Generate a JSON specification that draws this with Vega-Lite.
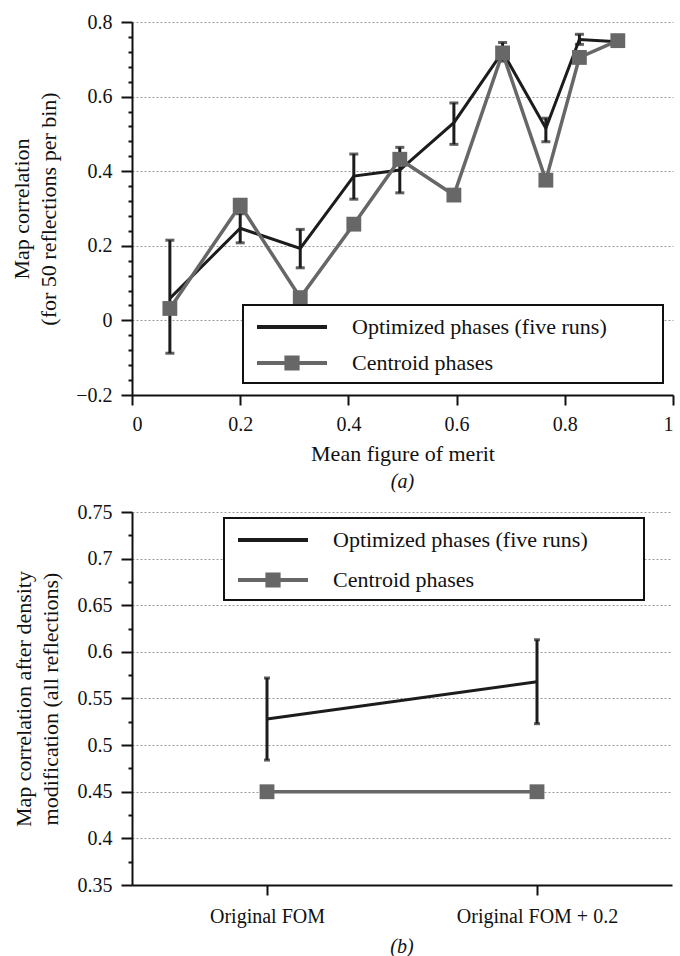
{
  "$schema": "https://vega.github.io/schema/vega-lite/v6.json",
  "background": "white",
  "padding": {"left": 10, "top": 12, "right": 4, "bottom": 2},
  "spacing": 10,
  "resolve": {"scale": {"color": "independent"}, "legend": {"color": "independent"}},
  "config": {
    "font": "Liberation Serif",
    "view": {"stroke": null},
    "axis": {
      "labelFont": "Liberation Serif", "labelFontSize": 20, "labelColor": "#111",
      "titleFont": "Liberation Serif", "titleFontSize": 22, "titleFontWeight": "normal", "titleColor": "#111",
      "domainColor": "#111", "domainWidth": 2, "tickColor": "#111", "tickWidth": 2,
      "gridColor": "#9a9a9a", "gridDash": [2, 2], "gridWidth": 1
    },
    "legend": {
      "orient": "none", "direction": "vertical",
      "fillColor": "white", "strokeColor": "#111", "padding": 6,
      "symbolOffset": 6, "labelOffset": 65, "symbolSize": 784, "symbolStrokeWidth": 4,
      "labelFont": "Liberation Serif", "labelFontSize": 22, "labelColor": "#111", "labelLimit": 600
    },
    "title": {"font": "Liberation Serif", "fontSize": 20, "fontWeight": "normal", "fontStyle": "italic", "color": "#111", "anchor": "middle"}
  },
  "datasets": {
    "top": [
      {"series": "Optimized phases (five runs)", "fom": 0.070, "r": 0.059, "lo": -0.088, "hi": 0.215},
      {"series": "Optimized phases (five runs)", "fom": 0.200, "r": 0.247, "lo": 0.208, "hi": 0.286},
      {"series": "Optimized phases (five runs)", "fom": 0.311, "r": 0.193, "lo": 0.141, "hi": 0.244},
      {"series": "Optimized phases (five runs)", "fom": 0.410, "r": 0.387, "lo": 0.325, "hi": 0.446},
      {"series": "Optimized phases (five runs)", "fom": 0.495, "r": 0.403, "lo": 0.342, "hi": 0.464},
      {"series": "Optimized phases (five runs)", "fom": 0.595, "r": 0.530, "lo": 0.472, "hi": 0.583},
      {"series": "Optimized phases (five runs)", "fom": 0.685, "r": 0.720, "lo": 0.695, "hi": 0.745},
      {"series": "Optimized phases (five runs)", "fom": 0.765, "r": 0.515, "lo": 0.479, "hi": 0.542},
      {"series": "Optimized phases (five runs)", "fom": 0.827, "r": 0.753, "lo": 0.740, "hi": 0.767},
      {"series": "Optimized phases (five runs)", "fom": 0.898, "r": 0.747, "lo": 0.737, "hi": 0.757},
      {"series": "Centroid phases", "fom": 0.070, "r": 0.032},
      {"series": "Centroid phases", "fom": 0.200, "r": 0.309},
      {"series": "Centroid phases", "fom": 0.311, "r": 0.061},
      {"series": "Centroid phases", "fom": 0.410, "r": 0.258},
      {"series": "Centroid phases", "fom": 0.495, "r": 0.432},
      {"series": "Centroid phases", "fom": 0.595, "r": 0.336},
      {"series": "Centroid phases", "fom": 0.685, "r": 0.717},
      {"series": "Centroid phases", "fom": 0.765, "r": 0.376},
      {"series": "Centroid phases", "fom": 0.827, "r": 0.705},
      {"series": "Centroid phases", "fom": 0.898, "r": 0.750}
    ],
    "bottom": [
      {"series": "Optimized phases (five runs)", "cond": "Original FOM", "r": 0.528, "lo": 0.484, "hi": 0.572},
      {"series": "Optimized phases (five runs)", "cond": "Original FOM + 0.2", "r": 0.568, "lo": 0.523, "hi": 0.613},
      {"series": "Centroid phases", "cond": "Original FOM", "r": 0.45},
      {"series": "Centroid phases", "cond": "Original FOM + 0.2", "r": 0.45}
    ]
  },
  "vconcat": [
    {
      "width": 541, "height": 373,
      "data": {"name": "top"},
      "title": {"text": "(a)", "orient": "bottom", "offset": 8},
      "resolve": {"axis": {"y": "independent"}},
      "encoding": {
        "x": {"field": "fom", "type": "quantitative", "scale": {"domain": [0, 1], "nice": false},
          "axis": {"title": "Mean figure of merit", "values": [0, 0.2, 0.4, 0.6, 0.8, 1], "format": "~g", "grid": false, "tickSize": 10, "labelPadding": 9, "titlePadding": 9}}
      },
      "layer": [
        {
          "transform": [{"filter": "datum.series === 'Optimized phases (five runs)'"}],
          "mark": {"type": "line", "strokeWidth": 3},
          "encoding": {
            "y": {"field": "r", "type": "quantitative", "scale": {"domain": [-0.2, 0.8], "nice": false},
              "axis": {
                "orient": "left",
                "title": ["Map correlation", "(for 50 reflections per bin)"], "titleLineHeight": 27, "titlePadding": 15,
                "values": [-0.2, 0, 0.2, 0.4, 0.6, 0.8], "format": "~g", "labelOverlap": false,
                "tickSize": 11, "labelPadding": 9
              }},
            "color": {"field": "series", "type": "nominal",
              "scale": {"domain": ["Optimized phases (five runs)", "Centroid phases"], "range": ["#1c1c1c", "#676767"]},
              "legend": {
                "title": null,
                "legendX": 111, "legendY": 283, "rowPadding": 9,
                "encode": {
                  "legend": {"update": {"strokeWidth": {"value": 2}}},
                  "symbols": {"update": {
                    "shape": {"signal": "datum.value === 'Centroid phases' ? 'M-1,0H1.1M1.9,0H4M1.1,-0.4H1.9V0.4H1.1ZM27,0' : 'M-1,0H4M27,0'"},
                    "fill": {"signal": "datum.value === 'Centroid phases' ? '#676767' : 'transparent'"},
                    "strokeWidth": {"value": 4}
                  }}
                }
              }}
          }
        },
        {
          "transform": [{"filter": "datum.series === 'Optimized phases (five runs)'"}],
          "mark": {"type": "rule", "strokeWidth": 3, "color": "#1c1c1c"},
          "encoding": {
            "y": {"field": "lo", "type": "quantitative",
              "axis": {"orient": "left", "title": null, "labels": false, "domain": false, "grid": false, "tickSize": 4,
                "values": [-0.16, -0.12, -0.08, -0.04, 0.04, 0.08, 0.12, 0.16, 0.24, 0.28, 0.32, 0.36, 0.44, 0.48, 0.52, 0.56, 0.64, 0.68, 0.72, 0.76]}},
            "y2": {"field": "hi"}
          }
        },
        {
          "transform": [{"filter": "datum.series === 'Optimized phases (five runs)'"}],
          "mark": {"type": "tick", "orient": "horizontal", "size": 9, "thickness": 3, "color": "#1c1c1c"},
          "encoding": {"y": {"field": "lo", "type": "quantitative", "axis": null}}
        },
        {
          "transform": [{"filter": "datum.series === 'Optimized phases (five runs)'"}],
          "mark": {"type": "tick", "orient": "horizontal", "size": 9, "thickness": 3, "color": "#1c1c1c"},
          "encoding": {"y": {"field": "hi", "type": "quantitative", "axis": null}}
        },
        {
          "transform": [{"filter": "datum.series === 'Centroid phases'"}],
          "mark": {"type": "line", "strokeWidth": 3.5},
          "encoding": {
            "y": {"field": "r", "type": "quantitative", "axis": null},
            "color": {"field": "series", "type": "nominal"}
          }
        },
        {
          "transform": [{"filter": "datum.series === 'Centroid phases'"}],
          "mark": {"type": "point", "shape": "square", "filled": true, "size": 220, "opacity": 1},
          "encoding": {
            "y": {"field": "r", "type": "quantitative", "axis": null},
            "color": {"field": "series", "type": "nominal"}
          }
        }
      ]
    },
    {
      "width": 540, "height": 373,
      "data": {"name": "bottom"},
      "title": {"text": "(b)", "orient": "bottom", "offset": 11},
      "resolve": {"axis": {"y": "independent"}},
      "encoding": {
        "x": {"field": "cond", "type": "ordinal",
          "scale": {"type": "point", "padding": 0.5, "domain": ["Original FOM", "Original FOM + 0.2"]},
          "axis": {"title": null, "labelAngle": 0, "tickSize": 10, "labelPadding": 11, "grid": false}}
      },
      "layer": [
        {
          "transform": [{"filter": "datum.series === 'Optimized phases (five runs)'"}],
          "mark": {"type": "line", "strokeWidth": 3},
          "encoding": {
            "y": {"field": "r", "type": "quantitative", "scale": {"domain": [0.35, 0.75], "nice": false},
              "axis": {
                "orient": "left",
                "title": ["Map correlation after density", "modification (all reflections)"], "titleLineHeight": 27, "titlePadding": 15,
                "values": [0.35, 0.4, 0.45, 0.5, 0.55, 0.6, 0.65, 0.7, 0.75], "format": "~g", "labelOverlap": false,
                "tickSize": 11, "labelPadding": 9
              }},
            "color": {"field": "series", "type": "nominal",
              "scale": {"domain": ["Optimized phases (five runs)", "Centroid phases"], "range": ["#1c1c1c", "#676767"]},
              "legend": {
                "title": null,
                "legendX": 92, "legendY": 6, "rowPadding": 13,
                "encode": {
                  "legend": {"update": {"strokeWidth": {"value": 2}}},
                  "symbols": {"update": {
                    "shape": {"signal": "datum.value === 'Centroid phases' ? 'M-1,0H1.1M1.9,0H4M1.1,-0.4H1.9V0.4H1.1ZM27,0' : 'M-1,0H4M27,0'"},
                    "fill": {"signal": "datum.value === 'Centroid phases' ? '#676767' : 'transparent'"},
                    "strokeWidth": {"value": 4}
                  }}
                }
              }}
          }
        },
        {
          "transform": [{"filter": "datum.series === 'Optimized phases (five runs)'"}],
          "mark": {"type": "rule", "strokeWidth": 3, "color": "#1c1c1c"},
          "encoding": {
            "y": {"field": "lo", "type": "quantitative",
              "axis": {"orient": "left", "title": null, "labels": false, "domain": false, "grid": false, "tickSize": 4,
                "values": [0.375, 0.425, 0.475, 0.525, 0.575, 0.625, 0.675, 0.725]}},
            "y2": {"field": "hi"}
          }
        },
        {
          "transform": [{"filter": "datum.series === 'Optimized phases (five runs)'"}],
          "mark": {"type": "tick", "orient": "horizontal", "size": 6, "thickness": 3, "color": "#1c1c1c"},
          "encoding": {"y": {"field": "lo", "type": "quantitative", "axis": null}}
        },
        {
          "transform": [{"filter": "datum.series === 'Optimized phases (five runs)'"}],
          "mark": {"type": "tick", "orient": "horizontal", "size": 6, "thickness": 3, "color": "#1c1c1c"},
          "encoding": {"y": {"field": "hi", "type": "quantitative", "axis": null}}
        },
        {
          "transform": [{"filter": "datum.series === 'Centroid phases'"}],
          "mark": {"type": "line", "strokeWidth": 3.5},
          "encoding": {
            "y": {"field": "r", "type": "quantitative", "axis": null},
            "color": {"field": "series", "type": "nominal"}
          }
        },
        {
          "transform": [{"filter": "datum.series === 'Centroid phases'"}],
          "mark": {"type": "point", "shape": "square", "filled": true, "size": 220, "opacity": 1},
          "encoding": {
            "y": {"field": "r", "type": "quantitative", "axis": null},
            "color": {"field": "series", "type": "nominal"}
          }
        }
      ]
    }
  ]
}
